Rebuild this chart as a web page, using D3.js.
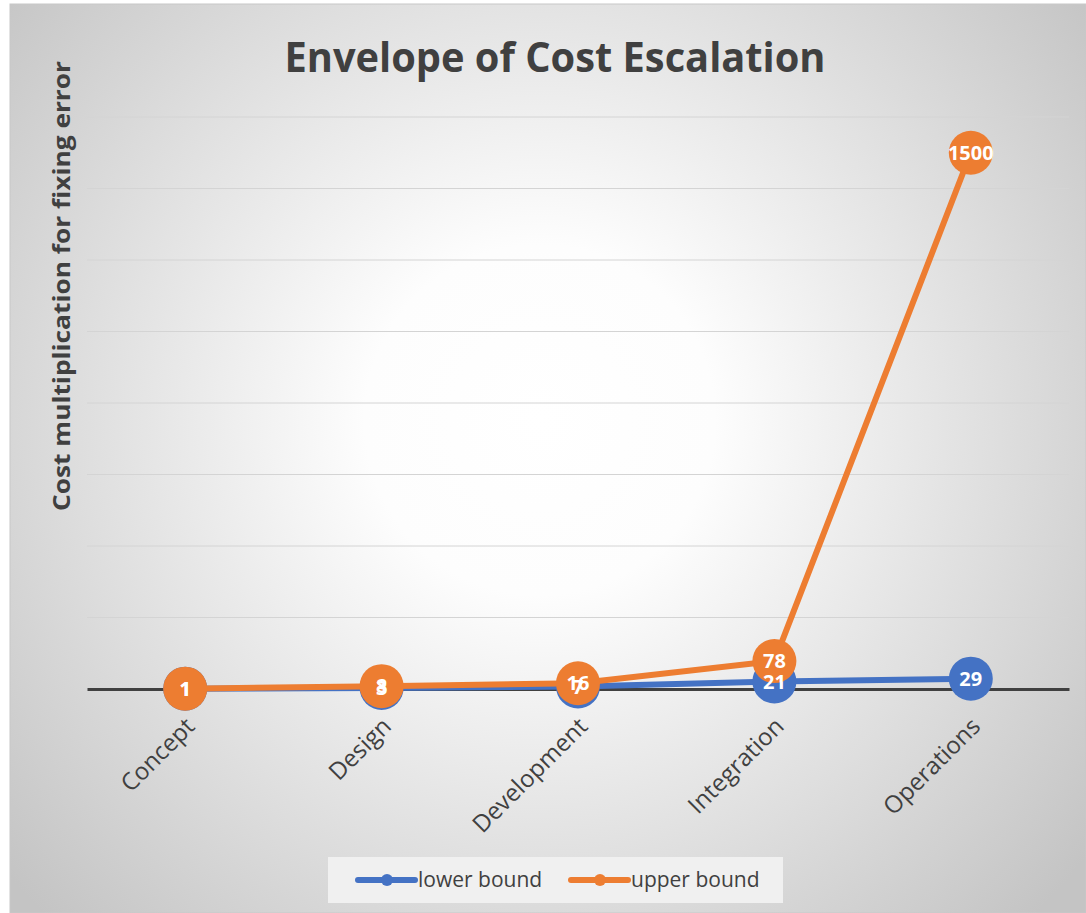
<!DOCTYPE html>
<html lang="en">
<head>
<meta charset="UTF-8">
<title>Envelope of Cost Escalation</title>
<script src="https://d3js.org/d3.v7.min.js"></script>
<style>
  body { margin: 0; background: #fff; }
  svg text { font-family: "Open Sans", "Noto Sans", sans-serif; }
</style>
</head>
<body>
<div id="chart"></div>
<script>
    // chart values
    var phases = ["Concept", "Design", "Development", "Integration", "Operations"];
    var lowerBound = [1, 3, 7, 21, 29];
    var upperBound = [1, 8, 16, 78, 1500];
    var yTicks = [0, 200, 400, 600, 800, 1000, 1200, 1400, 1600];

    var series = [
        {name: "lower bound", values: lowerBound, color: "#4472C4"},
        {name: "upper bound", values: upperBound, color: "#ED7D31"}
    ];

    var W = 1086, H = 913;
    var plot = {left: 87, right: 1069, top: 117, bottom: 689};

    var svg = d3.select("#chart").append("svg")
        .attr("width", W)
        .attr("height", H);

    // background gradient like the office chart area
    var defs = svg.append("defs");
    var grad = defs.append("radialGradient")
        .attr("id", "bg")
        .attr("gradientUnits", "userSpaceOnUse")
        .attr("cx", 540).attr("cy", 420).attr("r", 700);
    grad.append("stop").attr("offset", "0%").attr("stop-color", "#ffffff");
    grad.append("stop").attr("offset", "25%").attr("stop-color", "#fdfdfd");
    grad.append("stop").attr("offset", "100%").attr("stop-color", "#c4c4c4");

    svg.append("rect")
        .attr("x", 10).attr("y", 4)
        .attr("width", W - 10).attr("height", H - 4)
        .attr("fill", "url(#bg)")
        .attr("stroke", "#c8c8c8")
        .attr("stroke-width", 1);

    var x = d3.scaleBand()
        .domain(phases)
        .range([plot.left, plot.right]);
    var y = d3.scaleLinear()
        .domain([0, 1600])
        .range([plot.bottom, plot.top]);

    var cx = function (d, i) { return x(phases[i]) + x.bandwidth() / 2; };

    // gridlines
    svg.append("g")
        .selectAll("line")
        .data(yTicks.filter(function (t) { return t > 0; }))
        .enter()
        .append("line")
            .attr("x1", plot.left).attr("x2", plot.right)
            .attr("y1", function (d) { return y(d); })
            .attr("y2", function (d) { return y(d); })
            .attr("stroke", "#d4d4d4")
            .attr("stroke-width", 1);

    // category axis
    var xAxis = svg.append("g")
        .attr("transform", "translate(0," + y(0) + ")")
        .call(d3.axisBottom(x).tickSize(0).tickPadding(0));
    xAxis.select(".domain")
        .attr("stroke", "#404040")
        .attr("stroke-width", 3);
    xAxis.selectAll(".tick text")
        .attr("text-anchor", "end")
        .attr("fill", "#404040")
        .style("font-size", "24px")
        .attr("transform", "translate(5,33) rotate(-45)")
        .attr("dy", "0.35em")
        .attr("y", 0);

    // series lines and markers
    var line = d3.line()
        .x(function (d, i) { return cx(d, i); })
        .y(function (d) { return y(d); });

    series.forEach(function (s) {
        svg.append("path")
            .datum(s.values)
            .attr("d", line)
            .attr("fill", "none")
            .attr("stroke", s.color)
            .attr("stroke-width", 6)
            .attr("stroke-linejoin", "round");
        svg.append("g")
            .selectAll("circle")
            .data(s.values)
            .enter()
            .append("circle")
                .attr("cx", cx)
                .attr("cy", function (d) { return y(d); })
                .attr("r", 22)
                .attr("fill", s.color);
    });

    // data labels on top of everything
    series.forEach(function (s) {
        svg.append("g")
            .selectAll("text")
            .data(s.values)
            .enter()
            .append("text")
                .attr("x", cx)
                .attr("y", function (d) { return y(d); })
                .attr("dy", "0.36em")
                .attr("text-anchor", "middle")
                .attr("fill", "#ffffff")
                .style("font-size", "20px")
                .style("font-weight", "bold")
                .text(function (d) { return d; });
    });

    // title
    svg.append("text")
        .attr("x", 555).attr("y", 72)
        .attr("text-anchor", "middle")
        .attr("fill", "#404040")
        .attr("textLength", 541)
        .attr("lengthAdjust", "spacingAndGlyphs")
        .style("font-size", "41px")
        .style("font-weight", "bold")
        .text("Envelope of Cost Escalation");

    // y axis title
    svg.append("text")
        .attr("transform", "translate(70,286) rotate(-90)")
        .attr("text-anchor", "middle")
        .attr("fill", "#404040")
        .attr("textLength", 450)
        .attr("lengthAdjust", "spacingAndGlyphs")
        .style("font-size", "24px")
        .style("font-weight", "bold")
        .text("Cost multiplication for fixing error");

    // legend
    var legend = svg.append("g");
    legend.append("rect")
        .attr("x", 328).attr("y", 857)
        .attr("width", 455).attr("height", 46)
        .attr("fill", "#f0f0f0");
    var legendX = [358, 571];
    series.forEach(function (s, i) {
        var g = legend.append("g")
            .attr("transform", "translate(" + legendX[i] + ",880)");
        g.append("line")
            .attr("x1", 0).attr("x2", 57)
            .attr("stroke", s.color)
            .attr("stroke-width", 6)
            .attr("stroke-linecap", "round");
        g.append("circle")
            .attr("cx", 29).attr("r", 6)
            .attr("fill", s.color);
        g.append("text")
            .attr("x", 60).attr("y", 0)
            .attr("dy", "0.35em")
            .attr("fill", "#404040")
            .style("font-size", "21px")
            .text(s.name);
    });
</script>
</body>
</html>
